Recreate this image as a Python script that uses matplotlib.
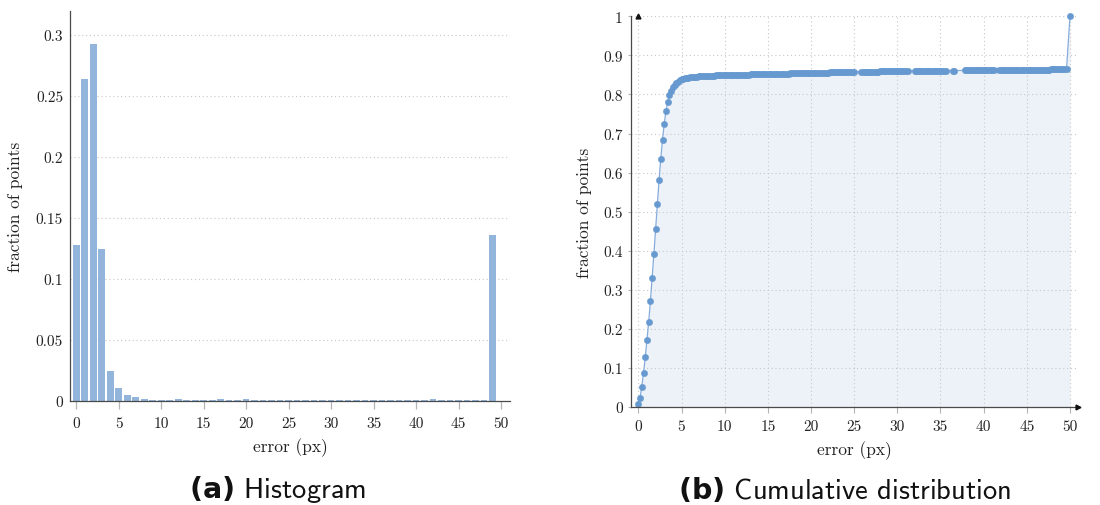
import numpy as np
import matplotlib
matplotlib.use("Agg")
import matplotlib.pyplot as plt
from matplotlib import font_manager

# ---------------- data ----------------
hist_bins = list(range(50))
hist_frac = [0.128, 0.264, 0.293, 0.125, 0.0245, 0.0105, 0.005, 0.0032, 0.0018, 0.001,
             0.001, 0.001, 0.0015, 0.001, 0.001, 0.001, 0.001, 0.0015, 0.001, 0.001,
             0.0015, 0.001, 0.001, 0.001, 0.0006, 0.0006, 0.0008, 0.001, 0.001, 0.0008,
             0.001, 0.001, 0.001, 0.001, 0.001, 0.0008, 0.0005, 0.0005, 0.0008, 0.0008,
             0.0008, 0.0006, 0.0015, 0.001, 0.001, 0.001, 0.001, 0.001, 0.001, 0.136]

cdf_x = list(np.round(np.arange(0, 49.61, 0.2), 1)) + [50.0]
cdf_y = [
    # 0.0 - 5.0
    0.007, 0.024, 0.052, 0.087, 0.127, 0.172, 0.218, 0.271, 0.330, 0.392,
    0.456, 0.520, 0.580, 0.636, 0.684, 0.725, 0.757, 0.780, 0.798, 0.810,
    0.818, 0.824, 0.829, 0.833, 0.836, 0.839,
    # 5.2 - 10.0
    0.8405, 0.8415, 0.8423, 0.8430, 0.8436,
    0.8442, 0.8447, 0.8452, 0.8456, 0.8460,
    0.8464, 0.8467, 0.8470, 0.8473, 0.8476,
    0.8478, 0.8480, 0.8482, 0.8484, 0.8486,
    0.8488, 0.8490, 0.8491, 0.8493, 0.8494,
    # 10.2 - 49.6
    0.8495, 0.8496, 0.8497, 0.8499, 0.8500,
    0.8501, 0.8502, 0.8503, 0.8504, 0.8505,
    0.8506, 0.8507, 0.8508, 0.8510, 0.8511,
    0.8512, 0.8513, 0.8514, 0.8515, 0.8516,
    0.8517, 0.8518, 0.8519, 0.8521, 0.8522,
    0.8523, 0.8524, 0.8525, 0.8526, 0.8528,
    0.8529, 0.8530, 0.8531, 0.8532, 0.8533,
    0.8534, 0.8535, 0.8536, 0.8538, 0.8539,
    0.8540, 0.8541, 0.8542, 0.8543, 0.8544,
    0.8545, 0.8546, 0.8547, 0.8549, 0.8550,
    0.8551, 0.8552, 0.8553, 0.8554, 0.8556,
    0.8557, 0.8558, 0.8559, 0.8560, 0.8561,
    0.8562, 0.8563, 0.8564, 0.8566, 0.8567,
    0.8568, 0.8569, 0.8570, 0.8571, 0.8572,
    0.8573, 0.8574, 0.8575, 0.8577, 0.8578,
    0.8579, 0.8579, 0.8580, 0.8581, 0.8581,
    0.8582, 0.8583, 0.8583, 0.8584, 0.8584,
    0.8585, 0.8586, 0.8586, 0.8587, 0.8588,
    0.8588, 0.8589, 0.8589, 0.8590, 0.8591,
    0.8591, 0.8592, 0.8593, 0.8593, 0.8594,
    0.8595, 0.8595, 0.8596, 0.8596, 0.8597,
    0.8597, 0.8598, 0.8599, 0.8599, 0.8600,
    0.8600, 0.8601, 0.8601, 0.8602, 0.8602,
    0.8603, 0.8603, 0.8604, 0.8605, 0.8605,
    0.8606, 0.8606, 0.8607, 0.8607, 0.8608,
    0.8608, 0.8609, 0.8609, 0.8610, 0.8610,
    0.8611, 0.8611, 0.8611, 0.8612, 0.8612,
    0.8613, 0.8613, 0.8614, 0.8614, 0.8615,
    0.8615, 0.8616, 0.8616, 0.8617, 0.8617,
    0.8618, 0.8618, 0.8619, 0.8619, 0.8620,
    0.8620, 0.8621, 0.8621, 0.8622, 0.8622,
    0.8623, 0.8623, 0.8624, 0.8624, 0.8625,
    0.8625, 0.8626, 0.8626, 0.8627, 0.8627,
    0.8628, 0.8628, 0.8629, 0.8629, 0.8630,
    0.8630, 0.8630, 0.8631, 0.8631, 0.8632,
    0.8632, 0.8633, 0.8633, 0.8634, 0.8634,
    0.8635, 0.8635, 0.8636, 0.8636, 0.8637,
    0.8637, 0.8638, 0.8638, 0.8639, 0.8639,
    0.8640, 0.8640, 0.8641, 0.8641, 0.8642,
    0.8642, 0.8643, 0.8643,
    # 50
    1.0,
]
# positions where no marker appears in the original (gaps in the marker band)
cdf_no_marker_x = [25.2, 25.4, 25.6, 31.4, 31.6, 31.8, 35.8, 36.0, 36.2,
                   36.8, 37.0, 37.2, 37.4, 37.6, 41.4, 41.6]

x_ticks = list(range(0, 51, 5))
hist_yticks = [0, 0.05, 0.1, 0.15, 0.2, 0.25, 0.3]
hist_yticklabels = ["0", "0.05", "0.1", "0.15", "0.2", "0.25", "0.3"]
cdf_yticks = [0, 0.1, 0.2, 0.3, 0.4, 0.5, 0.6, 0.7, 0.8, 0.9, 1.0]
cdf_yticklabels = ["0", "0.1", "0.2", "0.3", "0.4", "0.5", "0.6", "0.7", "0.8", "0.9", "1"]
xlabel = "error (px)"
ylabel = "fraction of points"
caption_a = ("(a)", "Histogram")
caption_b = ("(b)", "Cumulative distribution")

assert len(cdf_x) == len(cdf_y)

# ---------------- style ----------------
plt.rcParams["font.family"] = ["cmr10", "DejaVu Serif"]
plt.rcParams["mathtext.fontset"] = "custom"
_names = {f.name for f in font_manager.fontManager.ttflist}
_bold = "Liberation Sans Narrow" if "Liberation Sans Narrow" in _names else "DejaVu Sans"
plt.rcParams["mathtext.bf"] = _bold + ":bold"
plt.rcParams["axes.unicode_minus"] = False

TXT = "#222222"
SPINE = "#4a4a4a"
TICKC = "#b5b5b5"
GRIDC = "#c8c8c8"
FS_TICK = 11
FS_LABEL = 12.5

fig = plt.figure(figsize=(11, 5.06), dpi=100)

# ---------------- (a) histogram ----------------
ax1 = fig.add_axes([70 / 1100, 1 - 402 / 506, 440 / 1100, 390 / 506])
ax1.bar(hist_bins, hist_frac, width=0.78, color="#93b5dc", edgecolor="none",
        linewidth=0, zorder=3)
ax1.set_xlim(-0.74, 51.06)
ax1.set_ylim(0, 0.3197)
ax1.set_xticks(x_ticks)
ax1.set_xticklabels([str(t) for t in x_ticks])
ax1.set_yticks(hist_yticks)
ax1.set_yticklabels(hist_yticklabels)
ax1.tick_params(axis="x", direction="out", length=6, width=0.9, color=TICKC,
                labelsize=FS_TICK, labelcolor=TXT, pad=5)
ax1.tick_params(axis="y", length=0, labelsize=FS_TICK, labelcolor=TXT, pad=5)
ax1.grid(axis="y", linestyle=(0, (1, 2.5)), color=GRIDC, linewidth=0.8, zorder=0)
for s in ("top", "right"):
    ax1.spines[s].set_visible(False)
for s in ("left", "bottom"):
    ax1.spines[s].set_color(SPINE)
    ax1.spines[s].set_linewidth(0.9)
    ax1.spines[s].set_zorder(4)
ax1.set_xlabel(xlabel, fontsize=FS_LABEL, color=TXT, labelpad=5)
ax1.set_ylabel(ylabel, fontsize=FS_LABEL, color=TXT, labelpad=9)
ax1.set_facecolor("none")

# ---------------- (b) cumulative ----------------
ax2 = fig.add_axes([631 / 1100, 1 - 408 / 506, 447 / 1100, 390.7 / 506])
cx = np.array(cdf_x)
cy = np.array(cdf_y)
ax2.fill_between(cx, 0, cy, color="#edf2f8", linewidth=0, zorder=1)
ax2.plot(cx, cy, color="#86acdb", linewidth=0.9, zorder=3, clip_on=False)
show = ~np.isin(cx, np.array(cdf_no_marker_x))
ax2.plot(cx[show], cy[show], linestyle="none", marker="o", markersize=4.6,
         markerfacecolor="#6699cf", markeredgecolor="#6699cf", markeredgewidth=0.3,
         zorder=4, clip_on=False)
ax2.set_xlim(-0.85, 50.93)
ax2.set_ylim(0, 1.0)
ax2.set_xticks(x_ticks)
ax2.set_xticklabels([str(t) for t in x_ticks])
ax2.set_yticks(cdf_yticks)
ax2.set_yticklabels(cdf_yticklabels)
ax2.tick_params(axis="x", direction="out", length=4, width=0.8, color=TICKC,
                labelsize=FS_TICK, labelcolor=TXT, pad=5)
ax2.tick_params(axis="y", direction="out", length=2, width=0.8, color=TICKC,
                labelsize=FS_TICK, labelcolor=TXT, pad=4)
ax2.grid(True, linestyle=(0, (1, 2.5)), color=GRIDC, linewidth=0.8, zorder=0)
for s in ("top", "right"):
    ax2.spines[s].set_visible(False)
for s in ("left", "bottom"):
    ax2.spines[s].set_color(SPINE)
    ax2.spines[s].set_linewidth(0.9)
    ax2.spines[s].set_zorder(5)
# arrow heads on the axes
ax2.plot(1.0, 0, marker=">", color="#111111", markersize=3.5,
         transform=ax2.get_yaxis_transform(), clip_on=False, zorder=6)
ax2.plot(0, 1.0, marker="^", color="#111111", markersize=3.5,
         transform=ax2.get_xaxis_transform(), clip_on=False, zorder=6)
ax2.set_xlabel(xlabel, fontsize=FS_LABEL, color=TXT, labelpad=5)
ax2.set_ylabel(ylabel, fontsize=FS_LABEL, color=TXT, labelpad=8)
ax2.set_facecolor("none")

# ---------------- captions ----------------
fig.text(278 / 1100, 1 - 490 / 506, r"$\mathbf{" + caption_a[0] + "}$ " + caption_a[1],
         ha="center", va="center", fontsize=20.5, family="cmss10", color="#111111")
fig.text(845 / 1100, 1 - 490 / 506, r"$\mathbf{" + caption_b[0] + "}$ " + caption_b[1],
         ha="center", va="center", fontsize=20.5, family="cmss10", color="#111111")

fig.savefig("out.png", dpi=100, facecolor="white")
